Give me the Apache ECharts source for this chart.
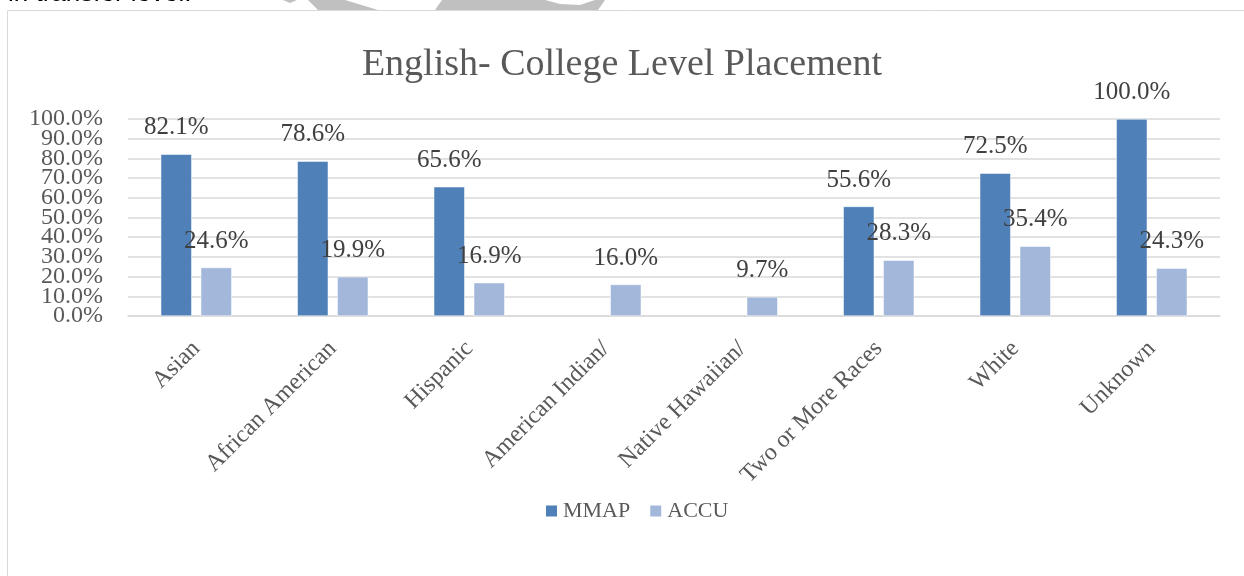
<!DOCTYPE html>
<html>
<head>
<meta charset="utf-8">
<script src="https://cdn.jsdelivr.net/npm/echarts@6/dist/echarts.min.js"></script>
<style>html,body{margin:0;padding:0;background:#fff;}#c{width:1244px;height:576px;}</style>
</head>
<body>
<div id="c"></div>
<script>
const categories = ['Asian', 'African American', 'Hispanic', 'American Indian/', 'Native Hawaiian/', 'Two or More Races', 'White', 'Unknown'];
const mmap = [82.1, 78.6, 65.6, null, null, 55.6, 72.5, 100.0];
const accu = [24.6, 19.9, 16.9, 16.0, 9.7, 28.3, 35.4, 24.3];
const seriesNames = ['MMAP', 'ACCU'];
const titleText = 'English- College Level Placement';
const yTicksEven = [0, 20, 40, 60, 80, 100];
const yTicksOdd = [10, 30, 50, 70, 90];

const SERIF = '"Liberation Serif", serif';
const yLabel = { margin: 25, fontFamily: SERIF, fontSize: 24, color: '#595959', formatter: v => Number(v).toFixed(1) + '%' };
const chart = echarts.init(document.getElementById('c'));
chart.setOption({
  backgroundColor: '#fff',
  animation: false,
  graphic: [
    { type: 'rect', shape: { x: 7.5, y: 10.5, width: 1260, height: 600 }, style: { fill: 'none', stroke: '#d9d9d9', lineWidth: 1 }, z: 0 },
    { type: 'text', left: 8, top: -19, style: { text: 'in transfer level.', font: '26px "Liberation Sans", sans-serif', fill: '#000' } },
    { type: 'polygon', shape: { points: [[283,0],[297,0],[290,3]] }, style: { fill: '#c0c0c0' } },
    { type: 'polygon', shape: { points: [[308,0],[345,0],[378,10],[318,10]] }, style: { fill: '#c0c0c0' } },
    { type: 'polygon', shape: { points: [[442,0],[605,0],[598,10],[435,10]] }, style: { fill: '#c0c0c0' } },
    { type: 'polygon', shape: { points: [[545,0],[595,0],[580,5],[560,4]] }, style: { fill: '#fff' } }
  ],
  title: {
    text: titleText,
    left: 'center',
    top: 41,
    textStyle: { fontFamily: SERIF, fontSize: 38, fontWeight: 'normal', color: '#595959' }
  },
  legend: {
    data: seriesNames,
    bottom: 54,
    left: 544,
    padding: 0,
    itemWidth: 13,
    itemHeight: 13,
    itemGap: 18,
    icon: 'rect',
    textStyle: { fontFamily: SERIF, fontSize: 22, color: '#595959' }
  },
  grid: { left: 128, right: 24, top: 119, bottom: 260, containLabel: false },
  xAxis: {
    type: 'category',
    data: categories,
    axisLine: { lineStyle: { color: '#d9d9d9', width: 1.5 } },
    axisTick: { show: false },
    axisLabel: { rotate: 45, margin: 29, interval: 0, fontFamily: SERIF, fontSize: 24, color: '#595959' }
  },
  yAxis: [
    {
      type: 'value', position: 'left',
      min: 0, max: 100, interval: 10,
      axisLine: { show: false },
      axisTick: { show: false },
      splitLine: { lineStyle: { color: '#d9d9d9', width: 1.5 } },
      axisLabel: Object.assign({ customValues: yTicksEven }, yLabel)
    },
    {
      type: 'value', position: 'left', offset: 0,
      min: 0, max: 100, interval: 10,
      axisLine: { show: false },
      axisTick: { show: false },
      splitLine: { show: false },
      axisLabel: Object.assign({ customValues: yTicksOdd }, yLabel)
    }
  ],
  series: [
    {
      name: seriesNames[0], type: 'bar', data: mmap, barWidth: 31, barGap: '29%',
      itemStyle: { color: '#4f81b8', borderColor: '#ffffff', borderWidth: 0.5 },
      label: { show: true, position: 'top', distance: 14, fontFamily: SERIF, fontSize: 25, color: '#404040', formatter: p => p.value == null ? '' : p.value.toFixed(1) + '%' }
    },
    {
      name: seriesNames[1], type: 'bar', data: accu, barWidth: 31,
      itemStyle: { color: '#a3b7da', borderColor: '#ffffff', borderWidth: 0.5 },
      label: { show: true, position: 'top', distance: 14, fontFamily: SERIF, fontSize: 25, color: '#404040', formatter: p => p.value.toFixed(1) + '%' }
    }
  ]
});
</script>
</body>
</html>
